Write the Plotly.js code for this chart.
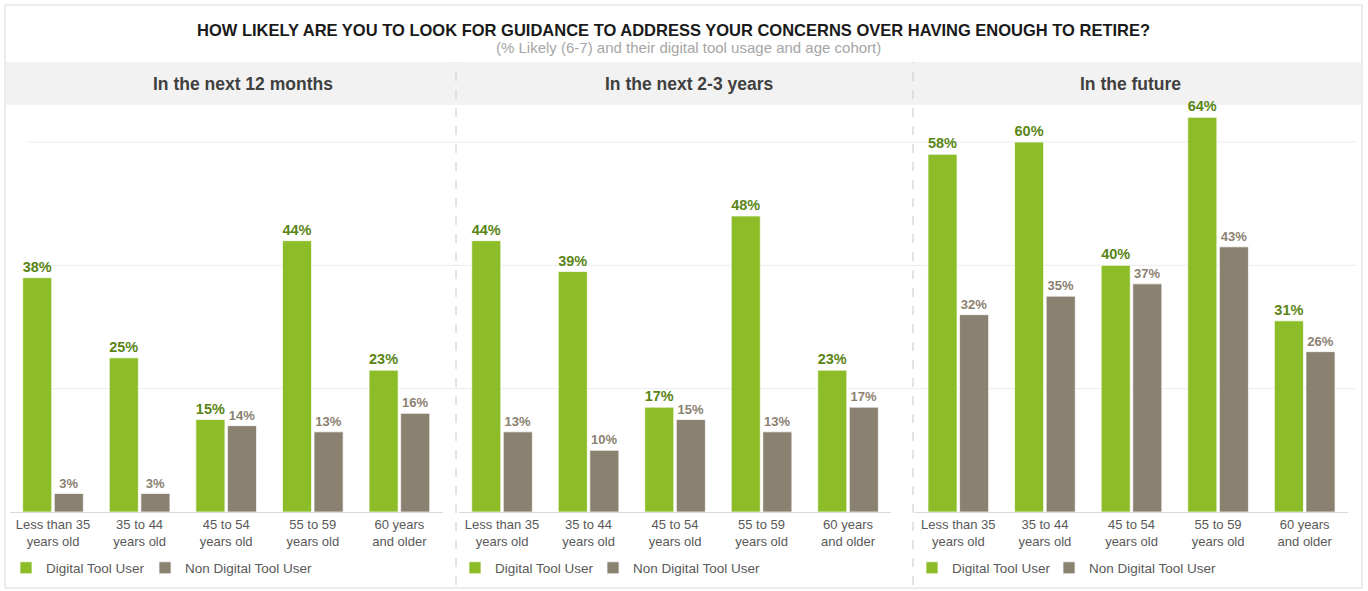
<!DOCTYPE html>
<html>
<head>
<meta charset="utf-8">
<script src="https://cdn.plot.ly/plotly-3.0.1.min.js"></script>
<style>html,body{margin:0;padding:0;background:#fff;}#chart{width:1368px;height:591px;}</style>
</head>
<body>
<div id="chart"></div>
<script>
// ---- data ----
const categories = ["Less than 35<br>years old", "35 to 44<br>years old", "45 to 54<br>years old", "55 to 59<br>years old", "60 years<br>and older"];
const panelTitles = ["In the next 12 months", "In the next 2-3 years", "In the future"];
const seriesNames = ["Digital Tool User", "Non Digital Tool User"];
const digital12m = [38, 25, 15, 44, 23];
const nonDigital12m = [3, 3, 14, 13, 16];
const digital23y = [44, 39, 17, 48, 23];
const nonDigital23y = [13, 10, 15, 13, 17];
const digitalFuture = [58, 60, 40, 64, 31];
const nonDigitalFuture = [32, 35, 37, 43, 26];
const yGrid = [20, 40, 60];

// ---- geometry helpers (pixels -> paper) ----
const W = 1368, H = 591, PT = 105, PB = 512;
const PH = PB - PT;
const px = x => x / W;
const py = y => (PB - y) / PH;

const GREEN = "#8cbd29", GRAY = "#8b8171";
const GREEN_TXT = "#5a8515", GRAY_TXT = "#8b8171";
const FONT = "Liberation Sans, Arial, sans-serif";

const panels = [
  {d: digital12m, n: nonDigital12m, xa: "x", legs: ["legend", "legend2"]},
  {d: digital23y, n: nonDigital23y, xa: "x2", legs: ["legend3", "legend4"]},
  {d: digitalFuture, n: nonDigitalFuture, xa: "x3", legs: ["legend5", "legend6"]}
];

const traces = [];
panels.forEach(p => {
  traces.push({
    type: "bar", x: categories, y: p.d, name: seriesNames[0], xaxis: p.xa, yaxis: "y",
    legend: p.legs[0],
    marker: {color: GREEN, line: {color: "rgba(255,255,255,0.7)", width: 1}},
    texttemplate: "%{y}%", textposition: "outside", cliponaxis: false,
    textfont: {family: FONT, size: 14.5, color: GREEN_TXT, weight: "bold"},
    hoverinfo: "skip"
  });
  traces.push({
    type: "bar", x: categories, y: p.n, name: seriesNames[1], xaxis: p.xa, yaxis: "y",
    legend: p.legs[1],
    marker: {color: GRAY, line: {color: "rgba(255,255,255,0.7)", width: 1}},
    texttemplate: "%{y}%", textposition: "outside", cliponaxis: false,
    textfont: {family: FONT, size: 13, color: GRAY_TXT, weight: "bold"},
    hoverinfo: "skip"
  });
});

const xCommon = {
  type: "category", showgrid: false, zeroline: false,
  showline: true, linecolor: "#d9d9d9", linewidth: 1,
  ticks: "", tickfont: {family: FONT, size: 13, color: "#595959"},
  anchor: "y", fixedrange: true
};

// legend text starts ~35px right of legend x (compromise between square and text placement)
const legCommon = (textX) => ({
  orientation: "h", x: px(textX - 35), xanchor: "left", y: py(568), yanchor: "middle",
  font: {family: FONT, size: 13.5, color: "#595959"}, bgcolor: "rgba(0,0,0,0)",
  itemclick: false, itemdoubleclick: false
});

const shapes = [
  {type: "rect", xref: "paper", yref: "paper", x0: px(5), x1: px(1362), y0: py(588), y1: py(5),
   line: {color: "#d9d9d9", width: 1}, fillcolor: "rgba(0,0,0,0)", layer: "below"},
  {type: "rect", xref: "paper", yref: "paper", x0: px(6), x1: px(1361), y0: py(105), y1: py(62),
   line: {width: 0}, fillcolor: "#f2f2f2", layer: "below"},
  {type: "line", xref: "paper", yref: "paper", x0: px(456), x1: px(456), y0: py(585), y1: py(62),
   line: {color: "#c8c8c8", width: 1, dash: "dash"}},
  {type: "line", xref: "paper", yref: "paper", x0: px(913), x1: px(913), y0: py(585), y1: py(62),
   line: {color: "#c8c8c8", width: 1, dash: "dash"}}
];
yGrid.forEach(v => shapes.push({
  type: "line", xref: "paper", yref: "y", x0: px(27), x1: px(1356), y0: v, y1: v,
  line: {color: "#ebebeb", width: 1}, layer: "below"
}));

const hdrFont = {family: FONT, size: 17.5, color: "#404040", weight: "bold"};
const annotations = [
  {text: "HOW LIKELY ARE YOU TO LOOK FOR GUIDANCE TO ADDRESS YOUR CONCERNS OVER HAVING ENOUGH TO RETIRE?",
   xref: "paper", yref: "paper", x: px(673), y: py(30), xanchor: "center", yanchor: "middle", showarrow: false,
   font: {family: FONT, size: 16.5, color: "#1a1a1a", weight: "bold"}},
  {text: "(% Likely (6-7) and their digital tool usage and age cohort)",
   xref: "paper", yref: "paper", x: px(688), y: py(48), xanchor: "center", yanchor: "middle", showarrow: false,
   font: {family: FONT, size: 15, color: "#a6a6a6"}},
  {text: panelTitles[0], xref: "paper", yref: "paper", x: px(243), y: py(84), xanchor: "center", yanchor: "middle",
   showarrow: false, font: hdrFont},
  {text: panelTitles[1], xref: "paper", yref: "paper", x: px(689), y: py(84), xanchor: "center", yanchor: "middle",
   showarrow: false, font: hdrFont},
  {text: panelTitles[2], xref: "paper", yref: "paper", x: px(1130), y: py(84), xanchor: "center", yanchor: "middle",
   showarrow: false, font: hdrFont}
];

const layout = {
  width: W, height: H,
  margin: {l: 0, r: 0, t: PT, b: H - PB, pad: 0},
  paper_bgcolor: "#ffffff", plot_bgcolor: "rgba(0,0,0,0)",
  barmode: "group", bargap: 0.27, bargroupgap: 0.08,
  font: {family: FONT},
  showlegend: true,
  xaxis: Object.assign({}, xCommon, {domain: [px(9.7), px(442.7)]}),
  xaxis2: Object.assign({}, xCommon, {domain: [px(458.8), px(891.3)]}),
  xaxis3: Object.assign({}, xCommon, {domain: [px(915), px(1348)]}),
  yaxis: {range: [0, 66], showticklabels: false, showgrid: false,
          zeroline: false, showline: false, ticks: "", fixedrange: true},
  legend: legCommon(41),
  legend2: legCommon(180),
  legend3: legCommon(490),
  legend4: legCommon(628),
  legend5: legCommon(947),
  legend6: legCommon(1084),
  shapes: shapes,
  annotations: annotations
};

Plotly.newPlot("chart", traces, layout, {displayModeBar: false, staticPlot: true});
</script>
</body>
</html>
